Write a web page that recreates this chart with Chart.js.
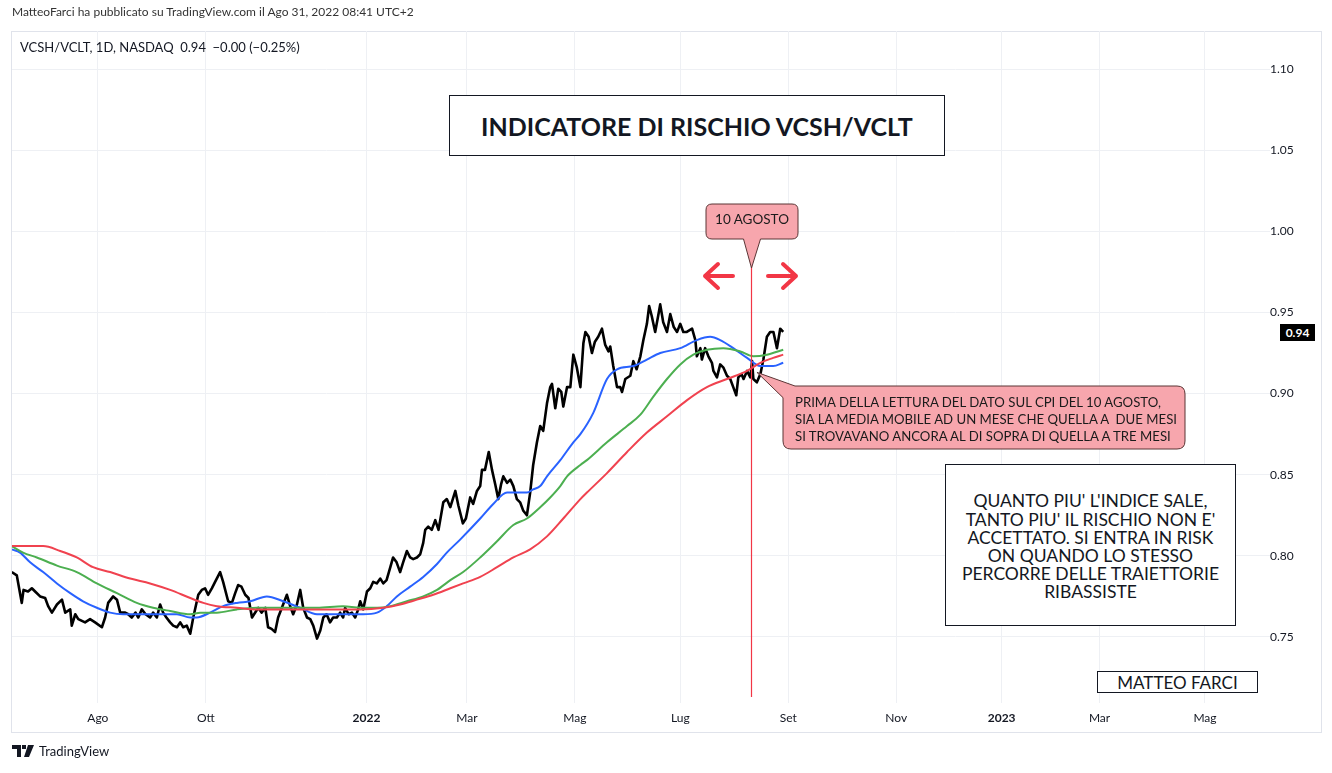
<!DOCTYPE html>
<html>
<head>
<meta charset="utf-8">
<script src="https://cdn.jsdelivr.net/npm/chart.js@4.4.1/dist/chart.umd.min.js"></script>
<style>
  body { margin: 0; background: #fff; font-family: "Lato", "Noto Sans", sans-serif; color: #131722; }
  #wrap { position: relative; width: 1332px; height: 773px; overflow: hidden; }
  #chart { position: absolute; left: 0; top: 0; }
  .txt { position: absolute; white-space: nowrap; }
  .box { position: absolute; box-sizing: border-box; background: #fff; border: 1px solid #131722;
         display: flex; align-items: center; justify-content: center; text-align: center; }
  #hdr { left: 12px; top: 4px; font-size: 12px; color: #333; }
  #legend { left: 20px; top: 39px; font-size: 13px; color: #131722; }
  #title { left: 449px; top: 95px; width: 496px; height: 61px; font-size: 25px; font-weight: bold; }
  #info { left: 945px; top: 464px; width: 291px; height: 162px; font-size: 17.5px; line-height: 18.2px; padding-top: 4px; }
  #sign { left: 1097px; top: 671px; width: 161px; height: 22px; font-size: 17px; }
  #evLabel { left: 706px; top: 211px; width: 92px; text-align: center; font-size: 13.5px; color: #1b1b1b; }
  #cpi { left: 795px; top: 394px; font-size: 13.2px; line-height: 17px; color: #1b1b1b; }
  #lastBox { position: absolute; left: 1280px; width: 35px; height: 17px; background: #000; color: #fff;
             font-size: 12px; font-weight: bold; display: flex; align-items: center; justify-content: center; }
  #footer { left: 12px; top: 743px; font-size: 13px; display: flex; align-items: center; gap: 5px; }
</style>
</head>
<body>
<div id="wrap">
  <canvas id="chart" width="1332" height="773"></canvas>
  <div class="txt" id="hdr">MatteoFarci ha pubblicato su TradingView.com il Ago 31, 2022 08:41 UTC+2</div>
  <div class="txt" id="legend">VCSH/VCLT, 1D, NASDAQ&nbsp; 0.94 &nbsp;−0.00 (−0.25%)</div>
  <div class="box" id="title">INDICATORE DI RISCHIO VCSH/VCLT</div>
  <div class="box" id="info">QUANTO PIU' L'INDICE SALE,<br>TANTO PIU' IL RISCHIO NON E'<br>ACCETTATO. SI ENTRA IN RISK<br>ON QUANDO LO STESSO<br>PERCORRE DELLE TRAIETTORIE<br>RIBASSISTE</div>
  <div class="box" id="sign">MATTEO FARCI</div>
  <div class="txt" id="evLabel">10 AGOSTO</div>
  <div class="txt" id="cpi">PRIMA DELLA LETTURA DEL DATO SUL CPI DEL 10 AGOSTO,<br>SIA LA MEDIA MOBILE AD UN MESE CHE QUELLA A&nbsp; DUE MESI<br>SI TROVAVANO ANCORA AL DI SOPRA DI QUELLA A TRE MESI</div>
  <div id="lastBox">0.94</div>
  <div class="txt" id="footer">
    <svg width="22" height="12" viewBox="0 0 22 12"><path d="M0 0h9v12H5V4H0z M10 0h4v4h-4z M16 0h6l-5 12h-5z" fill="#131722"/></svg>
    <span>TradingView</span>
  </div>
</div>
<script>
// x values are trading-day bars counted from 2 Aug 2021 (bar 0)
const monthTickBars = [0, 43, 107, 147, 190, 232, 275, 318, 360, 399, 441];
const monthTickLabels = ["Ago", "Ott", "2022", "Mar", "Mag", "Lug", "Set", "Nov", "2023", "Mar", "Mag"];
const yearTicks = ["2022", "2023"];
const yTickValues = [0.75, 0.80, 0.85, 0.90, 0.95, 1.00, 1.05, 1.10];
const eventBar = 260.3; // 10 agosto 2022

// VCSH/VCLT daily close
const priceData = [
  [-34.3,0.790],[-32.3,0.788],[-30.3,0.771],[-29.6,0.779],[-27.8,0.778],[-26.3,0.780],[-25,0.778],[-23,0.775],
  [-21,0.774],[-19.8,0.769],[-18.3,0.765],[-16.3,0.770],[-14.3,0.773],[-13,0.765],[-11,0.767],[-10.4,0.757],
  [-9,0.764],[-7.8,0.761],[-5.1,0.759],[-3.1,0.761],[-1.1,0.759],[1.6,0.756],[2.9,0.762],[4.1,0.771],
  [6.1,0.775],[7.6,0.773],[8.9,0.765],[10.9,0.765],[12.1,0.764],[13.5,0.762],[15,0.765],[16.1,0.762],
  [17.5,0.767],[19,0.764],[20.8,0.762],[22,0.765],[23.5,0.762],[24.8,0.770],[26,0.765],[27.3,0.762],
  [28.8,0.759],[30,0.757],[31.5,0.756],[32.8,0.759],[34,0.756],[35.4,0.757],[36.8,0.752],[38,0.762],
  [40,0.776],[41.4,0.779],[42.7,0.780],[43.9,0.776],[45.4,0.780],[46.7,0.784],[48.7,0.790],[49.9,0.784],
  [51.9,0.772],[53.4,0.771],[54.7,0.777],[55.9,0.782],[57.2,0.781],[58.7,0.776],[60,0.774],[61.4,0.762],
  [63.9,0.768],[65.2,0.765],[66.7,0.768],[67.8,0.756],[69.2,0.755],[70.6,0.753],[71.8,0.762],[73.3,0.768],
  [75.3,0.776],[76.6,0.769],[77.8,0.764],[79.3,0.770],[80.6,0.779],[81.8,0.768],[83.3,0.762],[84.6,0.761],
  [85.8,0.757],[87.3,0.749],[88.6,0.754],[89.8,0.762],[91.1,0.764],[92.5,0.759],[93.7,0.762],[95.2,0.762],
  [96.5,0.765],[97.7,0.762],[98.5,0.768],[99.9,0.764],[101.2,0.765],[102.5,0.762],[103.7,0.767],[104.5,0.772],
  [105.7,0.767],[107.2,0.778],[108.5,0.780],[109.7,0.784],[111.1,0.783],[112.5,0.786],[113.7,0.783],[115,0.785],
  [116.5,0.793],[117.6,0.799],[119,0.796],[120.4,0.790],[121.6,0.796],[123.1,0.803],[124.4,0.799],[125.6,0.798],
  [127.1,0.799],[128.4,0.801],[129.6,0.808],[130.4,0.816],[131.6,0.818],[133,0.816],[134.4,0.822],[135.7,0.816],
  [137.6,0.833],[139,0.835],[140.4,0.830],[142.4,0.840],[143.6,0.831],[145.4,0.820],[146.6,0.823],[148.3,0.836],
  [149.5,0.832],[151,0.840],[152.3,0.843],[153,0.853],[154.2,0.853],[155.7,0.864],[157,0.853],[158.3,0.844],
  [159.5,0.835],[160.6,0.844],[161.5,0.849],[163,0.845],[164.3,0.847],[165.5,0.843],[166.9,0.835],[168.2,0.833],
  [169.4,0.828],[170.9,0.825],[172.2,0.839],[173.4,0.856],[174.9,0.870],[176.2,0.880],[177.4,0.877],[178.9,0.894],
  [180.2,0.904],[180.9,0.906],[182.2,0.891],[183.4,0.903],[184.6,0.901],[185.4,0.892],[186.9,0.904],[188.2,0.904],
  [189.4,0.924],[190.8,0.916],[192.2,0.904],[193.4,0.931],[194.2,0.938],[195.5,0.935],[196.8,0.925],[198,0.932],
  [199.3,0.935],[200.8,0.940],[202.1,0.930],[203.4,0.926],[204.1,0.929],[205.3,0.917],[206.8,0.904],[208.1,0.904],
  [208.8,0.901],[210.1,0.909],[212.1,0.911],[213.3,0.920],[214.6,0.915],[216.1,0.923],[217.3,0.933],[218.7,0.943],
  [219.6,0.954],[220.6,0.948],[222,0.938],[223.2,0.948],[224,0.955],[225.2,0.944],[226.7,0.938],[228,0.949],
  [229.4,0.941],[230.7,0.938],[232,0.943],[233.2,0.938],[234.6,0.938],[236.7,0.940],[238,0.933],[238.6,0.923],
  [240,0.928],[240.6,0.921],[241.9,0.928],[243.2,0.923],[244.6,0.919],[245.2,0.914],[246.6,0.910],[247.9,0.918],
  [249.2,0.916],[250.6,0.911],[251.9,0.909],[253.1,0.904],[254.3,0.899],[255.1,0.910],[256.4,0.912],[257.2,0.909],
  [258.6,0.914],[259.9,0.910],[260.6,0.920],[261.1,0.909],[262.5,0.907],[263.9,0.912],[265.1,0.921],[266.5,0.935],
  [267.8,0.938],[269.1,0.938],[270.5,0.928],[271.8,0.940],[273,0.938]
];

// media mobile 1 mese (blu)
const ma1Data = [
  [-34.3,0.804],[-31,0.802],[-27,0.796],[-21.8,0.790],[-16.3,0.783],[-11,0.777],[-5.9,0.772],[-0.4,0.768],
  [4.9,0.765],[10.1,0.764],[18,0.764],[26,0.764],[31.5,0.764],[36.8,0.762],[39.4,0.762],[44.7,0.765],
  [49.9,0.769],[55.4,0.771],[60.7,0.772],[67.3,0.775],[73.8,0.772],[80.6,0.768],[87.3,0.764],[93.7,0.764],
  [100.5,0.764],[105.7,0.764],[111.2,0.765],[115.1,0.769],[119.1,0.775],[124.4,0.781],[129.6,0.787],[135.1,0.795],
  [139,0.802],[144.3,0.810],[152.3,0.823],[157.5,0.832],[163,0.839],[165.5,0.839],[170.9,0.839],[173.4,0.841],
  [176.2,0.843],[178.9,0.849],[184.2,0.859],[189.4,0.870],[192.2,0.875],[197.3,0.888],[202.8,0.909],[206.8,0.915],
  [213.3,0.917],[218.7,0.921],[224,0.925],[232,0.928],[238.6,0.933],[243.9,0.935],[247.9,0.933],[253.1,0.928],
  [258.6,0.922],[263.9,0.917],[269,0.917],[273,0.919]
];

// media mobile 2 mesi (verde)
const ma2Data = [
  [-34.3,0.806],[-29.8,0.802],[-24.3,0.799],[-16.3,0.794],[-8.4,0.790],[-0.4,0.783],[7.6,0.777],[15.5,0.771],
  [22,0.768],[28.8,0.766],[36.8,0.764],[40.8,0.765],[47.4,0.765],[55.4,0.767],[63.3,0.768],[73.8,0.768],
  [87.3,0.768],[97.7,0.769],[104.5,0.768],[111.2,0.768],[116.5,0.769],[123.1,0.772],[129.6,0.775],[135.1,0.779],
  [140.4,0.785],[145.5,0.790],[152.3,0.799],[159,0.809],[165.5,0.819],[170.9,0.823],[176.2,0.830],[180.2,0.836],
  [184.2,0.843],[186.9,0.849],[192.2,0.856],[194.8,0.859],[202.8,0.870],[210.8,0.880],[216.1,0.887],[221.2,0.898],
  [226.7,0.909],[232,0.918],[237.2,0.924],[242.6,0.927],[249.1,0.928],[255.9,0.926],[261.1,0.923],[266.5,0.924],
  [273,0.927]
];

// media mobile 3 mesi (rossa)
const ma3Data = [
  [-34.3,0.806],[-29.8,0.806],[-21.8,0.806],[-15,0.803],[-8.4,0.799],[-1.9,0.793],[4.9,0.790],[12.9,0.786],
  [20.8,0.783],[28.8,0.779],[36.8,0.774],[42,0.771],[47.4,0.769],[55.4,0.768],[63.3,0.767],[67.3,0.767],
  [80.6,0.767],[93.7,0.767],[104.5,0.767],[113.7,0.768],[120.4,0.770],[127.1,0.773],[133.6,0.776],[140.4,0.780],
  [145.5,0.783],[152.3,0.787],[159,0.793],[165.5,0.799],[172.2,0.804],[178.9,0.812],[185.4,0.823],[192.2,0.835],
  [194.8,0.839],[202.8,0.851],[210.8,0.864],[218.7,0.876],[226.7,0.886],[234.7,0.896],[242.6,0.904],[250.6,0.909],
  [258.6,0.914],[263.9,0.919],[269,0.922],[273,0.924]
];

const toXY = (arr) => arr.map(([x, y]) => ({ x: x, y: y }));

const gridColor = "#eef0f4";
const tvRed = "#f23645";
const calloutFill = "#f7a6ad";
const calloutStroke = "#5b3535";

// panel border behind the chart
const panelPlugin = {
  id: "panel",
  beforeDraw(chart) {
    const ctx = chart.ctx;
    ctx.save();
    ctx.strokeStyle = "#e0e3eb";
    ctx.lineWidth = 1;
    ctx.strokeRect(11.5, 31.5, 1310, 701);
    ctx.restore();
  },
};

// drawings on top: event line, arrows, callouts, last price tag
const drawingsPlugin = {
  id: "drawings",
  afterDatasetsDraw(chart) {
    const ctx = chart.ctx;
    const xs = chart.scales.x;
    const ys = chart.scales.y;
    const area = chart.chartArea;
    const ex = Math.round(xs.getPixelForValue(eventBar)) + 0.5;

    ctx.save();
    // vertical line for 10 agosto
    ctx.strokeStyle = tvRed;
    ctx.lineWidth = 1.2;
    ctx.beginPath();
    ctx.moveTo(ex, 266);
    ctx.lineTo(ex, area.bottom - 6);
    ctx.stroke();

    // "10 AGOSTO" callout with tail
    ctx.beginPath();
    const bx = 706, by = 204, bw = 92, bh = 35, r = 6;
    ctx.moveTo(bx + r, by);
    ctx.lineTo(bx + bw - r, by);
    ctx.quadraticCurveTo(bx + bw, by, bx + bw, by + r);
    ctx.lineTo(bx + bw, by + bh - r);
    ctx.quadraticCurveTo(bx + bw, by + bh, bx + bw - r, by + bh);
    ctx.lineTo(ex + 9, by + bh);
    ctx.lineTo(ex, 268);
    ctx.lineTo(ex - 8, by + bh);
    ctx.lineTo(bx + r, by + bh);
    ctx.quadraticCurveTo(bx, by + bh, bx, by + bh - r);
    ctx.lineTo(bx, by + r);
    ctx.quadraticCurveTo(bx, by, bx + r, by);
    ctx.closePath();
    ctx.fillStyle = calloutFill;
    ctx.fill();
    ctx.strokeStyle = calloutStroke;
    ctx.lineWidth = 1;
    ctx.stroke();

    // red arrows left / right
    ctx.strokeStyle = tvRed;
    ctx.lineWidth = 4;
    ctx.lineCap = "round";
    ctx.lineJoin = "round";
    ctx.beginPath();
    ctx.moveTo(733, 276); ctx.lineTo(705, 276);
    ctx.moveTo(718, 264); ctx.lineTo(705, 276); ctx.lineTo(718, 288);
    ctx.moveTo(768, 276); ctx.lineTo(796, 276);
    ctx.moveTo(783, 264); ctx.lineTo(796, 276); ctx.lineTo(783, 288);
    ctx.stroke();

    // CPI callout pointing at the crossing
    const tipX = xs.getPixelForValue(eventBar) + 6;
    const tipY = ys.getPixelForValue(0.913);
    const cx = 783, cy = 386, cw = 402, ch = 63, cr = 8;
    ctx.beginPath();
    ctx.moveTo(tipX, tipY);
    ctx.lineTo(cx + 12, cy);
    ctx.lineTo(cx + cw - cr, cy);
    ctx.quadraticCurveTo(cx + cw, cy, cx + cw, cy + cr);
    ctx.lineTo(cx + cw, cy + ch - cr);
    ctx.quadraticCurveTo(cx + cw, cy + ch, cx + cw - cr, cy + ch);
    ctx.lineTo(cx + cr, cy + ch);
    ctx.quadraticCurveTo(cx, cy + ch, cx, cy + ch - cr);
    ctx.lineTo(cx, cy + 12);
    ctx.closePath();
    ctx.fillStyle = calloutFill;
    ctx.lineWidth = 1;
    ctx.fill();
    ctx.strokeStyle = calloutStroke;
    ctx.stroke();
    ctx.restore();

    // last price tag follows the last close
    const last = priceData[priceData.length - 1][1];
    const tag = document.getElementById("lastBox");
    tag.style.top = Math.round(ys.getPixelForValue(last) - 8) + "px";
  },
};

new Chart(document.getElementById("chart"), {
  type: "line",
  data: {
    datasets: [
      { label: "MA 3 mesi", data: toXY(ma3Data), borderColor: "#f0424f", borderWidth: 2, cubicInterpolationMode: "monotone" },
      { label: "MA 2 mesi", data: toXY(ma2Data), borderColor: "#4caf50", borderWidth: 2, cubicInterpolationMode: "monotone" },
      { label: "MA 1 mese", data: toXY(ma1Data), borderColor: "#2962ff", borderWidth: 2, cubicInterpolationMode: "monotone" },
      { label: "VCSH/VCLT", data: toXY(priceData), borderColor: "#000000", borderWidth: 2.6, tension: 0 },
    ],
  },
  options: {
    responsive: false,
    animation: false,
    events: [],
    layout: { padding: { left: 12, top: 31, right: 11, bottom: 41 } },
    elements: { point: { radius: 0 }, line: { borderJoinStyle: "round" } },
    plugins: { legend: { display: false }, tooltip: { enabled: false } },
    scales: {
      x: {
        type: "linear",
        min: -34.2,
        max: 466.9,
        grid: { color: gridColor, drawTicks: false },
        border: { display: false },
        afterBuildTicks: (scale) => {
          scale.ticks = monthTickBars.map((v) => ({ value: v }));
        },
        afterFit: (scale) => {
          scale.height = 29;
        },
        ticks: {
          padding: 8,
          maxRotation: 0,
          autoSkip: false,
          color: "#131722",
          font: (ctx) => ({
            family: "Lato",
            size: 12,
            weight: ctx.tick && yearTicks.includes(monthTickLabels[ctx.index]) ? "bold" : "normal",
          }),
          callback: (value, index) => monthTickLabels[index],
        },
      },
      y: {
        position: "right",
        min: 0.7093,
        max: 1.1235,
        grid: { color: gridColor, drawTicks: false },
        border: { display: false },
        afterBuildTicks: (scale) => {
          scale.ticks = yTickValues.map((v) => ({ value: v }));
        },
        afterFit: (scale) => {
          scale.width = 51;
        },
        ticks: {
          crossAlign: "center",
          padding: 0,
          color: "#131722",
          font: { family: "Lato", size: 12 },
          callback: (value) => value.toFixed(2),
        },
      },
    },
  },
  plugins: [panelPlugin, drawingsPlugin],
});
</script>
</body>
</html>
